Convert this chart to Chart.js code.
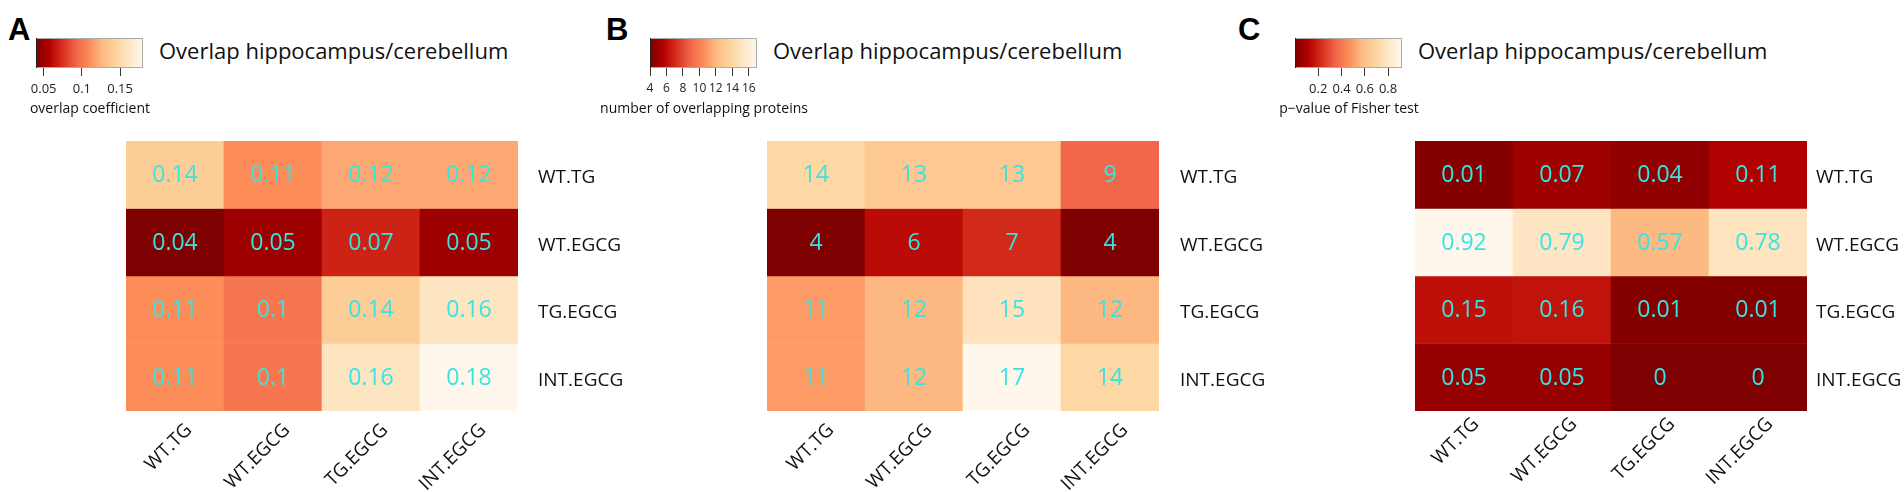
<!DOCTYPE html>
<html>
<head>
<meta charset="utf-8">
<script src="https://cdn.jsdelivr.net/npm/chart.js@4.4.1/dist/chart.umd.min.js"></script>
<style>
  html, body { margin: 0; padding: 0; background: #fff; overflow: hidden; }
  body { width: 1904px; height: 492px; position: relative; font-family: "Open Sans", sans-serif; }
  canvas { position: absolute; }
  .letter { position: absolute; font: bold 31px "Liberation Sans", Arial, sans-serif; line-height: 1; color: #000; }
  .title { position: absolute; font-size: 22px; line-height: 1; color: #111; white-space: nowrap; }
  .bartitle { position: absolute; width: 300px; font-size: 14px; line-height: 16px; color: #111; text-align: center; white-space: nowrap; }
</style>
</head>
<body>
<div class="letter" style="left:8px;top:14px">A</div>
<div class="letter" style="left:606px;top:14px">B</div>
<div class="letter" style="left:1238px;top:14px">C</div>

<div class="title" style="left:159px;top:39px">Overlap hippocampus/cerebellum</div>
<div class="title" style="left:773px;top:39px">Overlap hippocampus/cerebellum</div>
<div class="title" style="left:1418px;top:39px">Overlap hippocampus/cerebellum</div>

<canvas id="barA" width="227" height="62" style="left:-24px;top:38px"></canvas>
<canvas id="barB" width="227" height="62" style="left:590px;top:38px"></canvas>
<canvas id="barC" width="227" height="62" style="left:1235px;top:38px"></canvas>

<div class="bartitle" style="left:-60px;top:100px">overlap coefficient</div>
<div class="bartitle" style="left:554px;top:100px">number of overlapping proteins</div>
<div class="bartitle" style="left:1199px;top:100px">p&minus;value of Fisher test</div>

<canvas id="heatA" width="510" height="351" style="left:126px;top:141px"></canvas>
<canvas id="heatB" width="510" height="351" style="left:767px;top:141px"></canvas>
<canvas id="heatC" width="510" height="351" style="left:1415px;top:141px"></canvas>

<script>
const rowLabels = ["WT.TG", "WT.EGCG", "TG.EGCG", "INT.EGCG"];
const colLabels = ["WT.TG", "WT.EGCG", "TG.EGCG", "INT.EGCG"];

// A: overlap coefficient
const overlapCoef = [
  [0.14, 0.11, 0.12, 0.12],
  [0.04, 0.05, 0.07, 0.05],
  [0.11, 0.1, 0.14, 0.16],
  [0.11, 0.1, 0.16, 0.18]
];

// B: number of overlapping proteins
const overlapCount = [
  [14, 13, 13, 9],
  [4, 6, 7, 4],
  [11, 12, 15, 12],
  [11, 12, 17, 14]
];

// C: p-value of Fisher test
const fisherP = [
  [0.01, 0.07, 0.04, 0.11],
  [0.92, 0.79, 0.57, 0.78],
  [0.15, 0.16, 0.01, 0.01],
  [0.05, 0.05, 0, 0]
];

const coefTicks = [0.05, 0.1, 0.15];
const countTicks = [4, 6, 8, 10, 12, 14, 16];
const pTicks = [0.2, 0.4, 0.6, 0.8];

const FONT = "'Open Sans', sans-serif";
const CYAN = "#36e4e4";

// reversed OrRd
const palette = ["#7f0000", "#b30000", "#d7301f", "#ef6548", "#fc8d59", "#fdbb84", "#fdd49e", "#fee8c8", "#fff7ec"];

function hexToRgb(hex) {
  const n = parseInt(hex.slice(1), 16);
  return [(n >> 16) & 255, (n >> 8) & 255, n & 255];
}

function colourFor(v, lo, hi) {
  const t = Math.min(Math.max((v - lo) / (hi - lo), 0), 1) * (palette.length - 1);
  const i = Math.min(Math.floor(t), palette.length - 2);
  const f = t - i;
  const a = hexToRgb(palette[i]);
  const b = hexToRgb(palette[i + 1]);
  const c = a.map((x, k) => Math.round(x + (b[k] - x) * f));
  return `rgb(${c[0]}, ${c[1]}, ${c[2]})`;
}

function rangeOf(values) {
  const flat = values.flat();
  return [Math.min(...flat), Math.max(...flat)];
}

function cellTextPlugin(values, rowGap) {
  return {
    id: "cellText",
    afterDatasetsDraw(chart) {
      const { ctx, chartArea, scales } = chart;
      ctx.save();
      ctx.font = `23px ${FONT}`;
      ctx.fillStyle = CYAN;
      ctx.textAlign = "center";
      ctx.textBaseline = "middle";
      chart.data.datasets.forEach((ds, i) => {
        chart.getDatasetMeta(i).data.forEach((bar, j) => {
          ctx.fillText(String(values[i][j]), bar.x, (bar.y + bar.base) / 2 + 1);
        });
      });
      ctx.font = `19px ${FONT}`;
      ctx.fillStyle = "#111";
      ctx.textAlign = "left";
      rowLabels.forEach((row, i) => {
        ctx.fillText(row, chartArea.right + rowGap, scales.y.getPixelForValue(i + 0.5) + 3);
      });
      ctx.restore();
    }
  };
}

function createHeatmap(id, values, rowGap, labelPad, labelShift) {
  const [lo, hi] = rangeOf(values);

  new Chart(document.getElementById(id), {
    type: "bar",
    data: {
      labels: colLabels,
      datasets: rowLabels.map((row, i) => ({
        label: row,
        data: colLabels.map(() => [i, i + 1]),
        backgroundColor: values[i].map(v => colourFor(v, lo, hi)),
        borderWidth: 0,
        barPercentage: 1,
        categoryPercentage: 1,
        grouped: false
      }))
    },
    options: {
      responsive: false,
      animation: false,
      layout: { padding: 0 },
      plugins: {
        legend: { display: false },
        tooltip: { enabled: false }
      },
      scales: {
        x: {
          type: "category",
          offset: true,
          grid: { display: false, drawTicks: false },
          border: { display: false },
          ticks: {
            font: { family: FONT, size: 19 },
            color: "#111",
            minRotation: 45,
            maxRotation: 45,
            padding: labelPad,
            labelOffset: labelShift,
            autoSkip: false
          },
          afterFit: scale => { scale.height = 81; }
        },
        y: {
          type: "linear",
          position: "right",
          min: 0,
          max: rowLabels.length,
          reverse: true,
          grid: { display: false, drawTicks: false },
          border: { display: false },
          ticks: { display: false },
          afterFit: scale => { scale.width = 118; }
        }
      }
    },
    plugins: [cellTextPlugin(values, rowGap)]
  });
}

const gradientPlugin = {
  id: "gradientBar",
  beforeDatasetsDraw(chart) {
    const { ctx, chartArea: a } = chart;
    const g = ctx.createLinearGradient(a.left, 0, a.right, 0);
    palette.forEach((c, i) => g.addColorStop(i / (palette.length - 1), c));
    ctx.save();
    ctx.fillStyle = g;
    ctx.fillRect(a.left, a.top, a.right - a.left, a.bottom - a.top);
    ctx.strokeStyle = "#aaa";
    ctx.lineWidth = 1;
    ctx.strokeRect(a.left + 0.5, a.top + 0.5, a.right - a.left - 1, a.bottom - a.top - 1);
    ctx.strokeStyle = "#222";
    ctx.beginPath();
    ctx.moveTo(a.left + 0.5, a.top);
    ctx.lineTo(a.left + 0.5, a.bottom);
    ctx.stroke();
    ctx.restore();
  }
};

function createColourbar(id, values, ticks, tickSize) {
  const [lo, hi] = rangeOf(values);

  new Chart(document.getElementById(id), {
    type: "scatter",
    data: { datasets: [] },
    options: {
      responsive: false,
      animation: false,
      layout: { padding: { left: 60, right: 60, top: 0, bottom: 0 } },
      plugins: {
        legend: { display: false },
        tooltip: { enabled: false }
      },
      scales: {
        x: {
          type: "linear",
          min: lo,
          max: hi,
          afterBuildTicks: scale => { scale.ticks = ticks.map(v => ({ value: v })); },
          afterFit: scale => { scale.height = 32; },
          grid: { drawOnChartArea: false, drawTicks: true, tickLength: 8, color: "#333" },
          border: { display: false },
          ticks: {
            font: { family: FONT, size: tickSize },
            color: "#222",
            padding: 5,
            maxRotation: 0,
            autoSkip: false,
            callback: v => String(v)
          }
        },
        y: { display: false, min: 0, max: 1 }
      }
    },
    plugins: [gradientPlugin]
  });
}

createColourbar("barA", overlapCoef, coefTicks, 13);
createColourbar("barB", overlapCount, countTicks, 12);
createColourbar("barC", fisherP, pTicks, 13);

createHeatmap("heatA", overlapCoef, 20, 8, 14);
createHeatmap("heatB", overlapCount, 21, 8, 15);
createHeatmap("heatC", fisherP, 9, 2, 12);
</script>
</body>
</html>
